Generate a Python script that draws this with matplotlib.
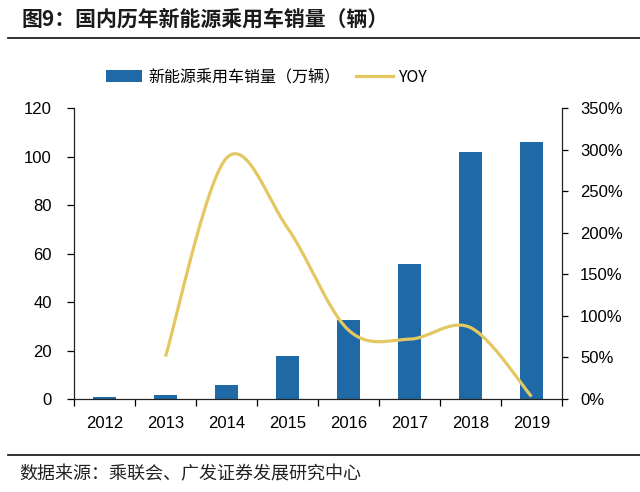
import numpy as np
import matplotlib.pyplot as plt
from matplotlib import font_manager
from matplotlib.lines import Line2D
from matplotlib.patches import Patch

years = ["2012", "2013", "2014", "2015", "2016", "2017", "2018", "2019"]
sales = [0.9, 1.6, 5.8, 17.6, 32.6, 55.7, 102.0, 105.9]  # 万辆
yoy_years = ["2013", "2014", "2015", "2016", "2017", "2018", "2019"]
yoy = [51, 290, 206, 83, 72, 86, 3]  # %

left_ticks = [0, 20, 40, 60, 80, 100, 120]
right_ticks = [0, 50, 100, 150, 200, 250, 300, 350]

BAR = "#1F6AA6"
LINE = "#E3C862"
CJK = ["Noto Sans CJK SC", "DejaVu Sans"]

# narrow latin font if present
names = {f.name for f in font_manager.fontManager.ttflist}
NUM = "Liberation Sans Narrow" if "Liberation Sans Narrow" in names else "Liberation Sans"
NUM_SIZE = 13 if NUM == "Liberation Sans Narrow" else 12


def smooth(xs, ys, n=30):
    # Catmull-Rom style curve through the points (like Excel's smoothed line)
    xs = np.asarray(xs, float)
    ys = np.asarray(ys, float)
    px = np.concatenate([[xs[0]], xs, [xs[-1]]])
    py = np.concatenate([[ys[0]], ys, [ys[-1]]])
    out_x, out_y = [], []
    t = np.linspace(0, 1, n)
    for i in range(1, len(px) - 2):
        p0 = np.array([px[i - 1], py[i - 1]])
        p1 = np.array([px[i], py[i]])
        p2 = np.array([px[i + 1], py[i + 1]])
        p3 = np.array([px[i + 2], py[i + 2]])
        b1 = p1 + (p2 - p0) / 6
        b2 = p2 - (p3 - p1) / 6
        pts = ((1 - t) ** 3)[:, None] * p1 + (3 * (1 - t) ** 2 * t)[:, None] * b1 \
            + (3 * (1 - t) * t ** 2)[:, None] * b2 + (t ** 3)[:, None] * p2
        out_x.extend(pts[:, 0])
        out_y.extend(pts[:, 1])
    return np.array(out_x), np.array(out_y)


fig = plt.figure(figsize=(6.4, 4.92), dpi=100)
ax = fig.add_axes([0.1156, 0.189, 0.7625, 0.591])
ax2 = ax.twinx()

x = np.arange(len(years))
ax.bar(x, sales, width=0.38, color=BAR, zorder=2)
ax.set_xlim(-0.5, len(years) - 0.5)
ax.set_ylim(0, 120)
ax.set_yticks(left_ticks)
ax.set_yticklabels([str(v) for v in left_ticks], family=NUM, fontsize=NUM_SIZE)
ax.set_xticks(x)
ax.set_xticklabels(years, family=NUM, fontsize=NUM_SIZE)
ax.set_xticks(np.arange(len(years) + 1) - 0.5, minor=True)
ax.tick_params(axis="x", which="major", length=0, pad=12)
ax.tick_params(axis="x", which="minor", length=5, width=0.9, direction="out")
ax.tick_params(axis="y", length=5, width=0.9, direction="out", pad=11)

xi = [years.index(y) for y in yoy_years]
sx, sy = smooth(xi, yoy)
ax2.plot(sx, sy, color=LINE, lw=2.3, solid_capstyle="butt", zorder=3)
ax2.set_ylim(0, 350)
ax2.set_yticks(right_ticks)
ax2.set_yticklabels([f"{v}%" for v in right_ticks], family=NUM, fontsize=NUM_SIZE)
ax2.tick_params(axis="y", length=4, width=0.9, direction="out", pad=9)

for a in (ax, ax2):
    a.spines["top"].set_visible(False)
    for s in ("left", "right", "bottom"):
        a.spines[s].set_linewidth(0.9)
        a.spines[s].set_color("#222222")
ax.spines["right"].set_visible(False)
ax2.spines["left"].set_visible(False)
ax2.spines["bottom"].set_visible(False)

handles = [Patch(facecolor=BAR, edgecolor="none"), Line2D([], [], color=LINE, lw=2.3)]
fig.legend(handles, ["新能源乘用车销量（万辆）", "YOY"], loc="center",
           bbox_to_anchor=(0.416, 0.843), ncol=2, frameon=False,
           prop={"family": CJK, "size": 11.5}, handlelength=2.3, handleheight=0.8,
           columnspacing=1.0, handletextpad=0.35)

fig.text(0.034, 0.962, "图9：国内历年新能源乘用车销量（辆）", family=CJK,
         fontsize=15, fontweight="bold", va="center", ha="left", color="#1a1a1a")
fig.add_artist(Line2D([0.012, 1.0], [0.922, 0.922], color="#222222", lw=1.3))
fig.add_artist(Line2D([0.012, 1.0], [0.075, 0.075], color="#222222", lw=1.3))
fig.text(0.03, 0.036, "数据来源：乘联会、广发证券发展研究中心", family=CJK,
         fontsize=13, va="center", ha="left", color="#222222")

fig.savefig("out.png", dpi=100)
